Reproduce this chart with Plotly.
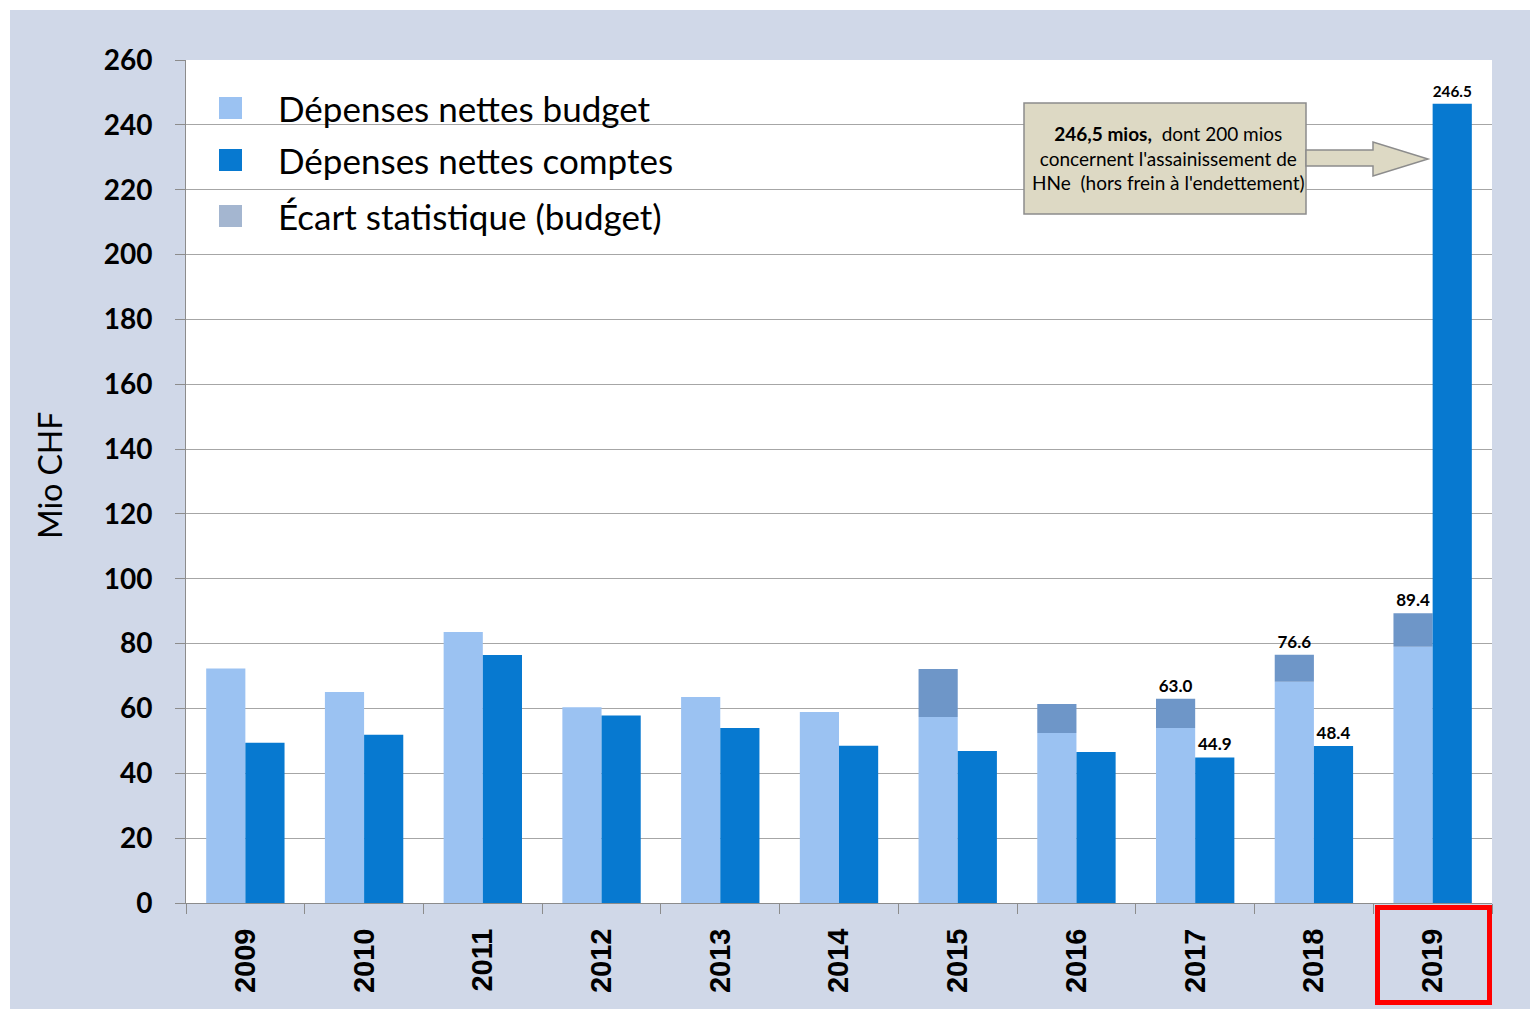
import plotly.graph_objects as go

years = ["2009", "2010", "2011", "2012", "2013", "2014", "2015", "2016", "2017", "2018", "2019"]
budget = [72.3, 65.1, 83.6, 60.4, 63.5, 58.9, 57.4, 52.4, 54.0, 68.2, 79.0]
ecart = [0, 0, 0, 0, 0, 0, 14.8, 9.0, 9.0, 8.4, 10.4]
comptes = [49.4, 51.9, 76.5, 57.8, 54.0, 48.5, 46.9, 46.6, 44.9, 48.4, 246.5]
labelled_years = ["2017", "2018", "2019"]

C_BUDGET = "#9BC2F2"
C_COMPTES = "#0779D0"
C_ECART = "#6E96C8"
C_ECART_LEG = "#A4B6D0"
BG = "#D0D8E8"
GRID = "#A6A6A6"

W, H = 1530, 1009
L, R, T, B = 186, 1492, 60, 903


def px(x):
    return (x - L) / (R - L)


def py(y):
    return (B - y) / (B - T)


totals = [b + e for b, e in zip(budget, ecart)]
total_txt = [f"{t:.1f}" if y in labelled_years else "" for y, t in zip(years, totals)]
comptes_txt = [f"{c:.1f}" if y in labelled_years else "" for y, c in zip(years, comptes)]

lab_font = dict(family="Lato", size=17, color="black", weight="bold")

fig = go.Figure()
fig.add_bar(x=years, y=budget, offsetgroup="b", marker=dict(color=C_BUDGET, line=dict(width=0)),
            name="Dépenses nettes budget", showlegend=False)
fig.add_bar(x=years, y=ecart, base=budget, offsetgroup="b", marker=dict(color=C_ECART, line=dict(width=0)),
            text=total_txt, textposition="outside", cliponaxis=False, textfont=lab_font,
            name="Écart statistique (budget)", showlegend=False)
fig.add_bar(x=years, y=comptes, offsetgroup="c", marker=dict(color=C_COMPTES, line=dict(width=0)),
            text=comptes_txt, textposition="outside", cliponaxis=False, textfont=lab_font,
            name="Dépenses nettes comptes", showlegend=False)

shapes = []
annotations = []

# white outer strips
shapes.append(dict(type="rect", xref="paper", yref="paper", x0=px(0), x1=px(W), y0=py(0), y1=py(10),
                   fillcolor="white", line=dict(width=0), layer="above"))
shapes.append(dict(type="rect", xref="paper", yref="paper", x0=px(0), x1=px(10), y0=py(0), y1=py(H),
                   fillcolor="white", line=dict(width=0), layer="above"))

# custom legend
leg = [("Dépenses nettes budget", C_BUDGET, 108), ("Dépenses nettes comptes", C_COMPTES, 160),
       ("Écart statistique (budget)", C_ECART_LEG, 216)]
for name, col, yc in leg:
    shapes.append(dict(type="rect", xref="paper", yref="paper", x0=px(219), x1=px(242),
                       y0=py(yc - 11), y1=py(yc + 11), fillcolor=col, line=dict(width=0), layer="above"))
    annotations.append(dict(xref="paper", yref="paper", x=px(276), y=py(yc), text=name, showarrow=False,
                            xanchor="left", yanchor="middle",
                            font=dict(family="Lato", size=35, color="black")))

# callout box
shapes.append(dict(type="rect", xref="paper", yref="paper", x0=px(1024), x1=px(1306), y0=py(103), y1=py(214),
                   fillcolor="#DDD9C4", line=dict(color="#8C8C8C", width=1.5), layer="above"))
pts = [(1306, 150), (1373, 150), (1373, 142), (1428, 159), (1373, 176), (1373, 166), (1306, 166)]
path = "M " + " L ".join(f"{px(a):.5f},{py(b):.5f}" for a, b in pts) + " Z"
shapes.append(dict(type="path", xref="paper", yref="paper", path=path,
                   fillcolor="#DDD9C4", line=dict(color="#8C8C8C", width=1.5), layer="above"))
annotations.append(dict(xref="paper", yref="paper", x=px(1168), y=py(158),
                        text="<b>246,5 mios,</b>  dont 200 mios<br>concernent l'assainissement de<br>HNe  (hors frein à l'endettement)",
                        showarrow=False, xanchor="center", yanchor="middle", align="center",
                        font=dict(family="Lato", size=19, color="black")))

# red box around 2019
shapes.append(dict(type="rect", xref="paper", yref="paper", x0=px(1377.5), x1=px(1489.5), y0=py(907.5), y1=py(1002.5),
                   fillcolor="rgba(0,0,0,0)", line=dict(color="#FF0000", width=5), layer="above"))

# y axis title
annotations.append(dict(xref="paper", yref="paper", x=px(50), y=py(476), text="Mio CHF", showarrow=False,
                        textangle=-90, xanchor="center", yanchor="middle",
                        font=dict(family="Lato", size=32, color="black")))

fig.update_layout(
    width=W, height=H,
    margin=dict(l=L, r=W - R, t=T, b=H - B, pad=0),
    paper_bgcolor=BG, plot_bgcolor="white",
    barmode="group", bargap=0.34, bargroupgap=0,
    shapes=shapes, annotations=annotations,
    xaxis=dict(type="category", tickson="boundaries", ticks="outside", ticklen=10, tickcolor="#8C8C8C",
               showline=True, linecolor="#8C8C8C", linewidth=1, showgrid=False, tickangle=-90,
               ticklabelstandoff=13,
               tickfont=dict(family="Liberation Sans", size=29, color="black", weight="bold")),
    yaxis=dict(range=[0, 260], dtick=20, tick0=0, showgrid=True, gridcolor=GRID, gridwidth=1,
               showline=True, linecolor="#8C8C8C", linewidth=1, ticks="outside", ticklen=10,
               tickcolor="#8C8C8C", zeroline=False, ticklabelstandoff=17,
               tickfont=dict(family="Lato", size=28, color="black", weight="bold")),
)

fig.write_html("out.html", config={"displayModeBar": False},
               post_script="document.body.style.margin='0';document.body.style.padding='0';")
